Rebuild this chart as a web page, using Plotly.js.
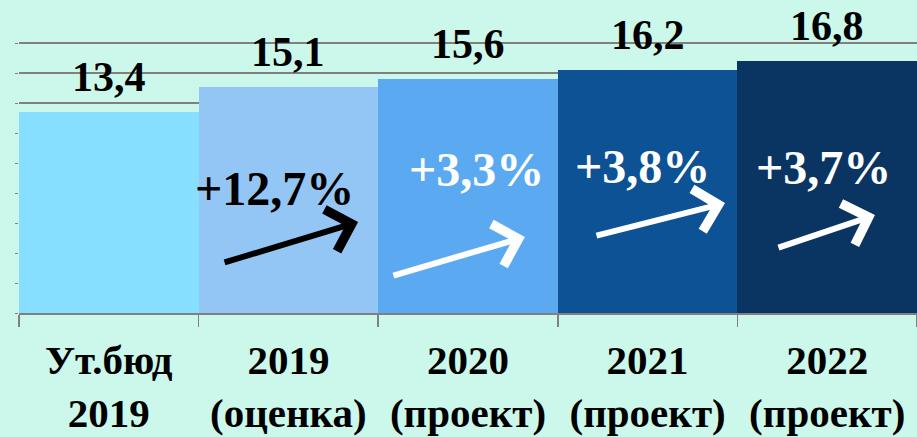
<!DOCTYPE html>
<html>
<head>
<meta charset="utf-8">
<script src="https://cdn.plot.ly/plotly-3.0.1.min.js"></script>
<style>
    html, body { margin: 0; padding: 0; background: #cbf8ea; }
    #chart { width: 917px; height: 437px; }
</style>
</head>
<body>
<div id="chart"></div>
<script>
// values
const categories = ["Ут.бюд<br>2019", "2019<br>(оценка)", "2020<br>(проект)", "2021<br>(проект)", "2022<br>(проект)"]
const values = [13.4, 15.1, 15.6, 16.2, 16.8]
const valueLabels = ["13,4", "15,1", "15,6", "16,2", "16,8"]
const growthLabels = ["", "+12,7%", "+3,3%", "+3,8%", "+3,7%"]

const barColors = ['#87dfff', '#93c6f4', '#5baaf1', '#0c5295', '#0a3562']
const growthColors = ['', '#000000', '#ffffff', '#ffffff', '#ffffff']

// where the growth text and arrow sit inside each bar (offset from bar centre)
const growthPos = [null, [-0.075, 8.27], [0.05, 9.6], [-0.031, 9.8], [-0.023, 9.73]]
const arrowTip = [null, [0.388, 6.07], [0.317, 5.07], [0.431, 7.33], [0.266, 6.53]]
const arrowTail = [null, [-135, 41], [-133, 39], [-130, 33], [-98, 33]]

const serif = '"Liberation Serif", "Times New Roman", serif'

function buildAnnotations() {
    const annotations = []
    for (let i = 0; i < values.length; i++) {
        annotations.push({
            x: i, y: values[i], xref: 'x', yref: 'y',
            text: '<b>' + valueLabels[i] + '</b>',
            showarrow: false,
            yanchor: 'bottom',
            yshift: 10,
            font: {family: serif, size: 42, color: '#000000'}
        })
        if (!growthLabels[i]) continue
        annotations.push({
            x: i + growthPos[i][0], y: growthPos[i][1], xref: 'x', yref: 'y',
            text: '<b>' + growthLabels[i] + '</b>',
            showarrow: false,
            font: {family: serif, size: 48, color: growthColors[i]}
        })
        annotations.push({
            x: i + arrowTip[i][0], y: arrowTip[i][1], xref: 'x', yref: 'y',
            ax: arrowTail[i][0], ay: arrowTail[i][1],
            text: '',
            showarrow: true,
            arrowhead: 4,
            arrowsize: 1.4,
            arrowwidth: 6,
            arrowcolor: growthColors[i]
        })
    }
    return annotations
}

const trace = {
    type: 'bar',
    x: categories.map(c => '<b>' + c.replace('<br>', '</b><br><b>') + '</b>'),
    y: values,
    marker: {color: barColors, line: {width: 0}},
    hoverinfo: 'skip'
}

const tickVals = []
for (let v = 0; v <= 18; v += 2) tickVals.push(v)

const layout = {
    width: 917,
    height: 437,
    margin: {l: 19, r: 0, t: 0, b: 124},
    paper_bgcolor: '#cbf8ea',
    plot_bgcolor: '#cbf8ea',
    bargap: 0,
    showlegend: false,
    xaxis: {
        type: 'category',
        range: [-0.5, 4.5],
        tickson: 'boundaries',
        ticks: 'outside',
        ticklen: 12,
        tickcolor: '#808080',
        tickwidth: 1.5,
        showline: true,
        linecolor: '#808080',
        linewidth: 1.5,
        showgrid: false,
        ticklabelstandoff: 10,
        tickfont: {family: serif, size: 41, color: '#000000'},
        fixedrange: true
    },
    yaxis: {
        range: [0, 313 / 15],
        tickvals: tickVals,
        showticklabels: false,
        ticks: 'outside',
        ticklen: 3,
        tickcolor: '#808080',
        showgrid: true,
        gridcolor: '#808080',
        gridwidth: 1.5,
        zeroline: false,
        fixedrange: true
    },
    annotations: buildAnnotations()
}

Plotly.newPlot('chart', [trace], layout, {displayModeBar: false, staticPlot: true})
</script>
</body>
</html>
